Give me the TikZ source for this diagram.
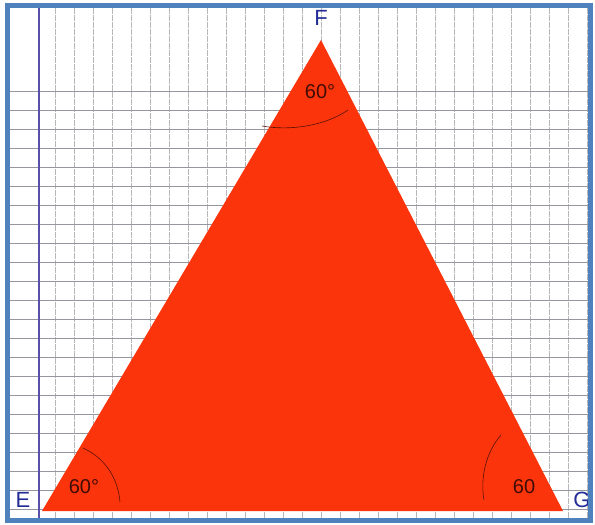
\documentclass[tikz,border=0pt]{standalone}
\usepackage{fontspec}
\setmainfont{Liberation Sans}
\definecolor{paperred}{RGB}{252, 52, 12}
\definecolor{frameblue}{RGB}{79, 129, 189}
\definecolor{inkblue}{RGB}{35, 45, 150}
\definecolor{gridgray}{RGB}{150, 150, 158}
\definecolor{marginblue}{RGB}{90, 80, 170}
\usetikzlibrary{positioning}

\begin{document}
\begin{tikzpicture}[x=1pt, y=-1pt,
  vlabel/.style={font=\fontsize{22}{22}\selectfont, text=inkblue},
  anglab/.style={font=\fontsize{20}{20}\selectfont, text=black!75!paperred},
  vline/.style={gridgray!70, line width=0.5pt, dash pattern=on 6pt off 1pt},
  hline/.style={gridgray, line width=0.6pt},
  angarc/.style={black!65!paperred, line width=0.6pt}
]
  \useasboundingbox (0,0) rectangle (595,525);

  % Paper
  \fill[white] (0,0) rectangle (595,525);
  \foreach \x in {0,...,28} \draw[vline] (55+19*\x,8) -- (55+19*\x,518);
  \foreach \y in {0,...,22} \draw[hline] (10,91+19*\y) -- (588,91+19*\y);
  \draw[marginblue, line width=1.2pt] (39,8) -- (39,518);

  % Triangle
  \coordinate (E) at (42,511);
  \coordinate (F) at (321,40);
  \coordinate (G) at (563,511);
  \fill[paperred] (E) -- (F) -- (G) -- cycle;

  % Vertex labels
  \node[vlabel] (labF) at (321,18) {F};
  \node[vlabel] (labE) at (23,500) {E};
  \node[vlabel] (labG) at (582,500) {G};

  % Angles
  \node[anglab] (angF) at (320,92) {60°};
  \node[anglab] (angE) at (84,487) {60°};
  \node[anglab] (angG) at (524,487) {60};
  \draw[angarc] (262,126) .. controls (290,131) and (325,126) .. (348,110);
  \draw[angarc] (83,448) .. controls (105,458) and (118,478) .. (120,502);
  \draw[angarc] (501,435) .. controls (486,452) and (480,478) .. (484,500);

  % Frame
  \draw[frameblue, line width=5pt] (7.5,5.5) rectangle (590,520.5);
\end{tikzpicture}
\end{document}
